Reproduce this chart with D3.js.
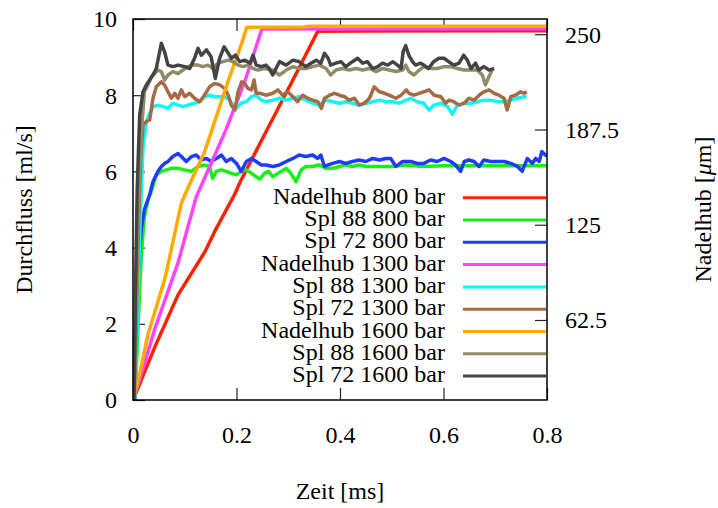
<!DOCTYPE html>
<html lang="de">
<head>
  <meta charset="UTF-8" />
  <title>Durchfluss und Nadelhub</title>
  <script src="https://d3js.org/d3.v7.min.js"></script>
  <style>
    body { margin: 0; background: #fff; }
    svg { display: block; background: #fff; }
    text { font-family: "Liberation Serif", "Times New Roman", serif; fill: #000; }
    .curve { fill: none; stroke-width: 3.5px; stroke-linejoin: round; }
  </style>
</head>
<body>
<svg width="718" height="508"></svg>
<script>
  // Achsen
  const xTicks = [0, 0.2, 0.4, 0.6, 0.8];
  const yTicks = [0, 2, 4, 6, 8, 10];
  const y2Ticks = [62.5, 125, 187.5, 250];

  // Nadelhub [µm] über Zeit [ms]
  const nadel800 = [[0,10],[0.0425,45],[0.087,79],[0.1385,107],[0.16,122],[0.1965,145],[0.207,153],[0.257,186],[0.303,216],[0.357,252],[0.45,252.2],[0.8,252.3]];
  const nadel1300 = [[0,10],[0.0232,35],[0.0425,57],[0.087,100],[0.122,143],[0.178,186],[0.216,219],[0.249,253.4],[0.5,253.6],[0.8,253.6]];
  const nadel1600 = [[0,10],[0.0135,28],[0.029,53],[0.062,90],[0.0933,139],[0.1,144.5],[0.1385,173],[0.1836,219],[0.209,243],[0.22,254.6],[0.33,254.8],[0.34,255.3],[0.8,255.3]];

  // Durchfluss [ml/s] über Zeit [ms]
  const spl88_800 = [[0.004,0],[0.01,2.0],[0.016,3.8],[0.022,4.8],[0.03,5.3],[0.0354,5.47],[0.045,5.91],[0.0548,6.0],[0.0644,6.04],[0.0741,6.08],[0.087,6.08],[0.0999,6.04],[0.113,6.0],[0.1256,6.13],[0.138,6.17],[0.148,6.13],[0.154,5.82],[0.161,6.0],[0.171,6.04],[0.18,6.0],[0.19,5.95],[0.2,5.91],[0.209,6.0],[0.219,6.04],[0.229,5.95],[0.238,5.86],[0.245,5.8],[0.254,5.95],[0.262,6.0],[0.27,5.86],[0.276,5.91],[0.286,6.0],[0.296,6.08],[0.305,5.95],[0.315,5.73],[0.325,6.04],[0.334,6.13],[0.347,6.13],[0.36,6.17],[0.373,6.08],[0.386,6.08],[0.399,6.13],[0.411,6.17],[0.424,6.13],[0.437,6.17],[0.45,6.13],[0.5,6.13],[0.528,6.17],[0.56,6.13],[0.6,6.15],[0.65,6.15],[0.7,6.15],[0.75,6.15],[0.8,6.15]];
  const spl72_800 = [[0,0.5],[0.004,1.5],[0.008,2.8],[0.012,3.8],[0.016,4.5],[0.022,5.0],[0.032,5.38],[0.0386,5.73],[0.048,6.0],[0.0548,6.13],[0.061,6.21],[0.0676,6.26],[0.077,6.39],[0.087,6.47],[0.0934,6.39],[0.103,6.26],[0.113,6.39],[0.122,6.43],[0.132,6.3],[0.142,6.34],[0.151,6.26],[0.161,6.34],[0.171,6.43],[0.18,6.26],[0.19,6.34],[0.2,6.21],[0.209,6.0],[0.219,6.26],[0.229,6.34],[0.238,6.26],[0.248,6.17],[0.257,6.17],[0.27,6.13],[0.283,6.17],[0.296,6.26],[0.309,6.34],[0.321,6.43],[0.334,6.39],[0.347,6.43],[0.357,6.34],[0.363,6.43],[0.37,6.13],[0.377,6.17],[0.386,6.21],[0.399,6.26],[0.411,6.21],[0.424,6.26],[0.437,6.3],[0.45,6.26],[0.463,6.34],[0.476,6.3],[0.489,6.34],[0.498,6.34],[0.508,6.13],[0.521,6.26],[0.537,6.26],[0.549,6.21],[0.562,6.21],[0.575,6.3],[0.588,6.26],[0.601,6.34],[0.614,6.26],[0.623,6.17],[0.633,6.0],[0.64,6.26],[0.649,6.3],[0.659,6.26],[0.669,6.13],[0.678,6.3],[0.691,6.26],[0.704,6.26],[0.717,6.26],[0.73,6.21],[0.743,6.13],[0.752,6.0],[0.762,6.34],[0.772,6.21],[0.778,6.34],[0.785,6.26],[0.79,6.52],[0.797,6.43],[0.804,6.39]];
  const spl88_1300 = [[0.004,0],[0.009,2.5],[0.014,4.8],[0.0193,6.6],[0.0258,7.31],[0.0322,7.52],[0.0386,7.7],[0.048,7.74],[0.058,7.7],[0.0676,7.66],[0.077,7.79],[0.087,7.74],[0.0966,7.7],[0.106,7.74],[0.119,7.79],[0.1288,7.83],[0.138,7.96],[0.148,8.0],[0.158,7.96],[0.171,7.96],[0.184,7.92],[0.193,7.74],[0.2,7.66],[0.209,7.79],[0.219,7.83],[0.229,7.96],[0.238,8.0],[0.248,7.87],[0.257,7.83],[0.27,7.87],[0.283,7.92],[0.296,7.87],[0.309,7.92],[0.321,7.96],[0.334,7.87],[0.347,7.79],[0.36,7.74],[0.373,7.87],[0.386,7.83],[0.399,7.79],[0.411,7.83],[0.424,7.79],[0.437,7.74],[0.45,7.79],[0.463,7.83],[0.476,7.87],[0.489,7.83],[0.502,7.83],[0.515,7.79],[0.528,7.87],[0.537,7.92],[0.549,7.83],[0.562,7.79],[0.572,7.61],[0.582,7.74],[0.595,7.79],[0.608,7.7],[0.617,7.5],[0.627,7.74],[0.64,7.79],[0.653,7.79],[0.666,7.83],[0.678,7.87],[0.691,7.87],[0.704,7.83],[0.717,7.83],[0.73,7.87],[0.743,7.92],[0.756,7.96],[0.761,7.96]];
  const spl72_1300 = [[0.003,0],[0.007,2.5],[0.011,4.8],[0.015,6.4],[0.0193,7.22],[0.0258,7.31],[0.0322,7.35],[0.0386,7.92],[0.045,8.22],[0.0548,8.35],[0.061,8.27],[0.0676,8.09],[0.074,7.92],[0.0805,8.05],[0.087,7.92],[0.0934,8.14],[0.0999,7.96],[0.1095,8.05],[0.119,7.92],[0.1288,7.83],[0.138,8.0],[0.148,8.22],[0.158,8.31],[0.1675,8.27],[0.177,8.18],[0.184,8.0],[0.19,7.74],[0.197,7.61],[0.203,8.09],[0.21,8.35],[0.216,8.31],[0.222,8.18],[0.229,8.14],[0.234,8.4],[0.238,8.05],[0.245,8.05],[0.257,8.0],[0.27,8.05],[0.28,8.14],[0.289,8.0],[0.299,8.09],[0.309,7.96],[0.318,7.83],[0.328,8.0],[0.338,7.92],[0.347,7.87],[0.357,7.83],[0.364,7.65],[0.37,7.92],[0.38,8.0],[0.389,8.05],[0.399,8.0],[0.409,7.96],[0.418,7.87],[0.428,7.92],[0.437,7.74],[0.447,7.79],[0.457,7.92],[0.466,8.22],[0.476,8.09],[0.486,8.05],[0.495,8.0],[0.508,7.92],[0.518,8.0],[0.528,8.14],[0.533,8.05],[0.543,8.0],[0.553,8.05],[0.562,8.09],[0.572,8.14],[0.582,8.0],[0.595,7.96],[0.604,7.79],[0.611,7.87],[0.62,7.83],[0.63,7.74],[0.64,7.79],[0.649,7.92],[0.659,7.87],[0.669,8.0],[0.678,8.09],[0.688,8.14],[0.698,8.05],[0.707,8.0],[0.717,7.92],[0.723,7.61],[0.73,7.96],[0.739,8.0],[0.749,8.09],[0.756,8.05],[0.761,8.09]];
  const spl88_1600 = [[0.003,0],[0.007,3.0],[0.011,5.5],[0.016,7.0],[0.022,8.09],[0.029,8.27],[0.0354,8.49],[0.0418,8.57],[0.048,8.66],[0.0548,8.62],[0.061,8.4],[0.0676,8.53],[0.077,8.62],[0.087,8.57],[0.0966,8.66],[0.106,8.75],[0.116,8.79],[0.1256,8.79],[0.135,8.75],[0.1449,8.79],[0.1546,8.7],[0.164,8.84],[0.174,8.88],[0.184,8.92],[0.193,8.88],[0.203,8.79],[0.2125,8.75],[0.222,8.79],[0.232,8.7],[0.2415,8.66],[0.254,8.7],[0.27,8.66],[0.283,8.53],[0.296,8.66],[0.309,8.75],[0.321,8.7],[0.334,8.7],[0.347,8.75],[0.36,8.79],[0.373,8.7],[0.382,8.53],[0.392,8.66],[0.405,8.7],[0.418,8.66],[0.431,8.7],[0.444,8.66],[0.457,8.7],[0.47,8.62],[0.482,8.7],[0.495,8.66],[0.508,8.62],[0.521,8.66],[0.527,8.79],[0.533,8.62],[0.543,8.53],[0.553,8.66],[0.562,8.75],[0.575,8.7],[0.588,8.7],[0.601,8.75],[0.614,8.75],[0.627,8.7],[0.639,8.66],[0.653,8.66],[0.665,8.66],[0.675,8.53],[0.681,8.27],[0.688,8.49],[0.694,8.66]];
  const spl72_1600 = [[0.002,0],[0.005,3.0],[0.008,5.5],[0.0129,7.48],[0.0193,8.09],[0.0258,8.27],[0.0322,8.4],[0.0386,8.53],[0.045,8.7],[0.0515,9.14],[0.0548,9.36],[0.061,9.14],[0.0676,8.79],[0.0773,8.75],[0.087,8.79],[0.0999,8.75],[0.1095,8.7],[0.119,8.97],[0.1256,9.23],[0.132,9.05],[0.142,9.19],[0.151,9.01],[0.159,8.44],[0.1675,8.97],[0.176,9.27],[0.184,9.1],[0.19,8.97],[0.198,9.05],[0.206,8.88],[0.216,8.92],[0.226,8.84],[0.232,9.05],[0.238,8.79],[0.248,8.75],[0.257,8.79],[0.263,8.7],[0.27,8.53],[0.283,8.88],[0.296,8.79],[0.309,8.92],[0.321,8.88],[0.334,8.75],[0.344,8.84],[0.354,8.92],[0.363,8.84],[0.37,9.1],[0.377,8.97],[0.382,8.79],[0.392,8.84],[0.402,8.88],[0.411,8.75],[0.424,8.88],[0.434,8.97],[0.444,8.84],[0.453,8.88],[0.463,8.7],[0.473,8.75],[0.482,8.84],[0.492,8.79],[0.502,8.88],[0.511,8.79],[0.518,8.7],[0.522,9.14],[0.527,9.3],[0.533,9.05],[0.54,8.88],[0.546,8.79],[0.556,8.84],[0.562,8.79],[0.571,8.7],[0.581,8.88],[0.591,8.97],[0.601,8.97],[0.61,8.88],[0.62,8.79],[0.63,8.84],[0.639,9.05],[0.646,8.92],[0.653,8.7],[0.662,8.84],[0.668,8.66],[0.678,8.75],[0.688,8.66],[0.698,8.7]];

  // Reihenfolge wie in der Legende
  const series = [
    {name: "Nadelhub 800 bar",  data: nadel800,   axis: "y2", color: "#ff2200"},
    {name: "Spl 88 800 bar",    data: spl88_800,  axis: "y",  color: "#1aee1a"},
    {name: "Spl 72 800 bar",    data: spl72_800,  axis: "y",  color: "#1e3cff"},
    {name: "Nadelhub 1300 bar", data: nadel1300,  axis: "y2", color: "#ff44ff"},
    {name: "Spl 88 1300 bar",   data: spl88_1300, axis: "y",  color: "#11f5f5"},
    {name: "Spl 72 1300 bar",   data: spl72_1300, axis: "y",  color: "#a86a44"},
    {name: "Nadelhub 1600 bar", data: nadel1600,  axis: "y2", color: "#ffaa00"},
    {name: "Spl 88 1600 bar",   data: spl88_1600, axis: "y",  color: "#918c68"},
    {name: "Spl 72 1600 bar",   data: spl72_1600, axis: "y",  color: "#444444"}
  ];

  const svg = d3.select("svg");
  const pLeft = 133, pRight = 547, pTop = 19, pBottom = 400;

  const x = d3.scaleLinear().domain([0, 0.8]).range([pLeft, pRight]);
  const y = d3.scaleLinear().domain([0, 10]).range([pBottom, pTop]);
  const y2 = d3.scaleLinear().domain([10, 260]).range([pBottom, pTop]);

  svg.append("clipPath").attr("id", "plotclip")
    .append("rect")
    .attr("x", pLeft).attr("y", pTop)
    .attr("width", pRight - pLeft).attr("height", pBottom - pTop);

  function styleAxis(g) {
    g.select(".domain").remove();
    g.attr("font-family", null).attr("font-size", null).attr("color", "#222");
    g.selectAll("line").attr("stroke-width", 1.2);
    g.selectAll("text").style("font-size", "24px");
  }

  // Achsen (Ticks nach innen)
  svg.append("g")
    .attr("transform", `translate(${pLeft},0)`)
    .call(d3.axisLeft(y).tickValues(yTicks).tickSize(-12).tickPadding(16).tickFormat(d3.format("d")))
    .call(styleAxis)
    .selectAll("text").attr("dy", "0.33em");

  svg.append("g")
    .attr("transform", `translate(0,${pBottom})`)
    .call(d3.axisBottom(x).tickValues(xTicks).tickSize(-12).tickPadding(26).tickFormat(d => String(d)))
    .call(styleAxis);

  svg.append("g")
    .attr("transform", `translate(0,${pTop})`)
    .call(d3.axisTop(x).tickValues(xTicks).tickSize(-12).tickFormat(""))
    .call(styleAxis);

  svg.append("g")
    .attr("transform", `translate(${pRight},0)`)
    .call(d3.axisRight(y2).tickValues(y2Ticks).tickSize(-12).tickPadding(18).tickFormat(d => String(d)))
    .call(styleAxis)
    .selectAll("text").attr("dy", "0.33em");

  // Kurven
  const lineY = d3.line().x(d => x(d[0])).y(d => y(d[1]));
  const lineY2 = d3.line().x(d => x(d[0])).y(d => y2(d[1]));

  const plot = svg.append("g").attr("clip-path", "url(#plotclip)");
  plot.selectAll("path.curve")
    .data(series)
    .enter()
    .append("path")
    .attr("class", "curve")
    .attr("stroke", d => d.color)
    .attr("d", d => (d.axis === "y2" ? lineY2 : lineY)(d.data));

  // Rahmen
  svg.append("rect")
    .attr("x", pLeft).attr("y", pTop)
    .attr("width", pRight - pLeft).attr("height", pBottom - pTop)
    .attr("fill", "none").attr("stroke", "#000").attr("stroke-width", 1.5);

  // Legende
  const legend = svg.append("g");
  const rowY = i => 197.7 + i * 22.3;
  legend.selectAll("line")
    .data(series)
    .enter()
    .append("line")
    .attr("x1", 463).attr("x2", 546)
    .attr("y1", (d, i) => rowY(i)).attr("y2", (d, i) => rowY(i))
    .attr("stroke", d => d.color)
    .attr("stroke-width", 3);
  legend.selectAll("text")
    .data(series)
    .enter()
    .append("text")
    .attr("x", 445)
    .attr("y", (d, i) => rowY(i) + 6)
    .attr("text-anchor", "end")
    .style("font-size", "24px")
    .text(d => d.name);

  // Achsentitel
  svg.append("text")
    .attr("x", 340).attr("y", 499)
    .attr("text-anchor", "middle")
    .style("font-size", "24px")
    .text("Zeit [ms]");

  svg.append("text")
    .attr("transform", `translate(32,${(pTop + pBottom) / 2}) rotate(-90)`)
    .attr("text-anchor", "middle")
    .style("font-size", "24px")
    .text("Durchfluss [ml/s]");

  const t2 = svg.append("text")
    .attr("transform", `translate(711,${(pTop + pBottom) / 2}) rotate(-90)`)
    .attr("text-anchor", "middle")
    .style("font-size", "24px");
  t2.append("tspan").text("Nadelhub [");
  t2.append("tspan").style("font-style", "italic").text("\u03bc");
  t2.append("tspan").text("m]");
</script>
</body>
</html>
